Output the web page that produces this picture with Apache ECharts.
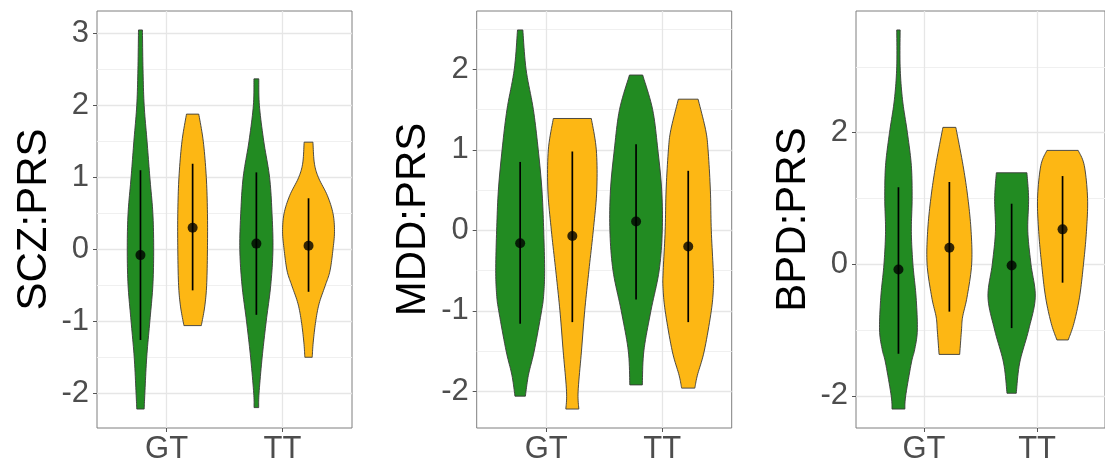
<!DOCTYPE html>
<html>
<head>
<meta charset="utf-8">
<script src="https://cdn.jsdelivr.net/npm/echarts@6/dist/echarts.min.js"></script>
<style>
  html, body { margin: 0; padding: 0; background: #fff; }
  #chart { width: 1105px; height: 466px; }
</style>
</head>
<body>
<div id="chart"></div>
<script>
// x categories and panel titles
const genotypes = ['GT', 'TT'];
const traitNames = ['SCZ:PRS', 'MDD:PRS', 'BPD:PRS'];

// violin outlines: [PRS value, half width in x units], from top to bottom
const sczGTGreen = [[3.05, 0.017], [2.5, 0.022], [2.0, 0.032], [1.5, 0.057], [1.0, 0.081], [0.5, 0.107], [0, 0.114], [-0.5, 0.107], [-1, 0.081], [-1.5, 0.054], [-2, 0.038], [-2.22, 0.032]];
const sczGTOrange = [[1.88, 0.053], [1.5, 0.092], [1, 0.118], [0.5, 0.128], [0, 0.128], [-0.5, 0.121], [-0.8, 0.104], [-1.06, 0.075]];
const sczTTGreen = [[2.37, 0.021], [2.0, 0.026], [1.5, 0.064], [1, 0.114], [0.5, 0.135], [0, 0.143], [-0.5, 0.124], [-1, 0.085], [-1.5, 0.05], [-2, 0.023], [-2.2, 0.02]];
const sczTTOrange = [[1.49, 0.038], [1.2, 0.05], [1, 0.085], [0.75, 0.162], [0.5, 0.211], [0.25, 0.224], [0, 0.211], [-0.3, 0.185], [-0.5, 0.145], [-0.75, 0.092], [-1, 0.062], [-1.3, 0.04], [-1.5, 0.032]];

const mddGTGreen = [[2.49, 0.023], [2, 0.051], [1.5, 0.114], [1, 0.156], [0.5, 0.188], [0, 0.203], [-0.5, 0.211], [-0.8, 0.203], [-1, 0.185], [-1.5, 0.121], [-1.8, 0.071], [-2.06, 0.045]];
const mddGTOrange = [[1.39, 0.164], [1, 0.207], [0.5, 0.211], [0, 0.181], [-0.5, 0.143], [-1, 0.107], [-1.5, 0.079], [-2, 0.05], [-2.22, 0.056]];
const mddTTGreen = [[1.93, 0.057], [1.5, 0.143], [1, 0.188], [0.5, 0.221], [0, 0.226], [-0.5, 0.199], [-1, 0.128], [-1.5, 0.067], [-1.92, 0.054]];
const mddTTOrange = [[1.63, 0.085], [1.25, 0.15], [1, 0.171], [0.5, 0.191], [0, 0.199], [-0.5, 0.216], [-0.7, 0.218], [-1, 0.199], [-1.5, 0.138], [-1.8, 0.079], [-1.96, 0.057]];

const bpdGTGreen = [[3.56, 0.015], [3, 0.015], [2.5, 0.036], [2, 0.079], [1.5, 0.114], [1, 0.121], [0.5, 0.114], [0, 0.128], [-0.5, 0.156], [-1, 0.167], [-1.3, 0.143], [-1.5, 0.114], [-2, 0.064], [-2.2, 0.057]];
const bpdGTOrange = [[2.08, 0.057], [1.5, 0.121], [1, 0.164], [0.5, 0.192], [0, 0.197], [-0.5, 0.156], [-0.8, 0.117], [-1, 0.107], [-1.37, 0.091]];
const bpdTTGreen = [[1.39, 0.135], [1, 0.15], [0.5, 0.143], [0, 0.171], [-0.5, 0.209], [-1, 0.15], [-1.5, 0.071], [-1.96, 0.041]];
const bpdTTOrange = [[1.73, 0.138], [1.5, 0.192], [1, 0.221], [0.5, 0.211], [0, 0.185], [-0.5, 0.15], [-0.9, 0.1], [-1.15, 0.05]];

// mean and mean ± sd, order: GT green, GT orange, TT green, TT orange
const sczMean = [-0.08, 0.30, 0.08, 0.05];
const sczLow = [-1.26, -0.57, -0.91, -0.59];
const sczHigh = [1.10, 1.19, 1.07, 0.71];
const mddMean = [-0.16, -0.07, 0.11, -0.20];
const mddLow = [-1.16, -1.14, -0.86, -1.14];
const mddHigh = [0.85, 0.98, 1.07, 0.74];
const bpdMean = [-0.08, 0.25, -0.02, 0.53];
const bpdLow = [-1.36, -0.72, -0.97, -0.28];
const bpdHigh = [1.17, 1.25, 0.92, 1.34];

// y ticks (major with labels, minor gridlines)
const sczTicks = [-2, -1, 0, 1, 2, 3];
const sczMinor = [-1.5, -0.5, 0.5, 1.5, 2.5];
const mddTicks = [-2, -1, 0, 1, 2];
const mddMinor = [-1.5, -0.5, 0.5, 1.5, 2.5];
const bpdTicks = [-2, 0, 2];
const bpdMinor = [-1, 1, 3];

const panels = [
  { name: traitNames[0], violins: [sczGTGreen, sczGTOrange, sczTTGreen, sczTTOrange], mean: sczMean, low: sczLow, high: sczHigh, ticks: sczTicks, minor: sczMinor },
  { name: traitNames[1], violins: [mddGTGreen, mddGTOrange, mddTTGreen, mddTTOrange], mean: mddMean, low: mddLow, high: mddHigh, ticks: mddTicks, minor: mddMinor },
  { name: traitNames[2], violins: [bpdGTGreen, bpdGTOrange, bpdTTGreen, bpdTTOrange], mean: bpdMean, low: bpdLow, high: bpdHigh, ticks: bpdTicks, minor: bpdMinor }
];

const FILLS = ['#228B22', '#FDB714'];
const DODGE = 0.225;
const gridLefts = [97, 476.7, 856];
const FONT = 'Liberation Sans, Arial, sans-serif';

const xPos = i => Math.floor(i / 2) + 1 + (i % 2 ? DODGE : -DODGE);

// Catmull-Rom smoothing of the outline for drawing
const cr = (a, b, c, d, t) =>
  0.5 * (2 * b + (-a + c) * t + (2 * a - 5 * b + 4 * c - d) * t * t + (-a + 3 * b - 3 * c + d) * t * t * t);
const smoothProfile = (prof, steps) => {
  const out = [];
  for (let i = 0; i < prof.length - 1; i++) {
    const p0 = prof[Math.max(i - 1, 0)], p1 = prof[i], p2 = prof[i + 1], p3 = prof[Math.min(i + 2, prof.length - 1)];
    for (let s = 0; s < steps; s++) {
      const t = s / steps;
      out.push([cr(p0[0], p1[0], p2[0], p3[0], t), Math.max(0.004, cr(p0[1], p1[1], p2[1], p3[1], t))]);
    }
  }
  out.push(prof[prof.length - 1]);
  return out;
};

// y range like ggplot: data range expanded by 5%
const yRange = p => {
  let lo = Infinity, hi = -Infinity;
  p.violins.forEach(v => v.forEach(d => { lo = Math.min(lo, d[0]); hi = Math.max(hi, d[0]); }));
  p.low.forEach(v => { lo = Math.min(lo, v); });
  p.high.forEach(v => { hi = Math.max(hi, v); });
  const pad = (hi - lo) * 0.05;
  return [lo - pad, hi + pad];
};

const grids = [], xAxes = [], yAxes = [], series = [];

panels.forEach((p, g) => {
  const [ymin, ymax] = yRange(p);
  grids.push({ left: gridLefts[g], top: 11, width: 255, height: 417, show: true, borderColor: '#7f7f7f', borderWidth: 1, backgroundColor: 'transparent' });

  xAxes.push({
    type: 'value', gridIndex: g, min: 0.4, max: 2.6, position: 'bottom',
    axisLine: { show: false, onZero: false },
    axisTick: { show: true, length: 4, lineStyle: { color: '#555', width: 1 }, customValues: [1, 2] },
    axisLabel: { customValues: [1, 2], formatter: v => genotypes[Math.round(v) - 1], color: '#4D4D4D', fontSize: 31, fontFamily: FONT, margin: 6 },
    splitLine: { show: true, lineStyle: { color: '#E6E6E6', width: 1.3 } }
  });

  yAxes.push({
    type: 'value', gridIndex: g, min: ymin, max: ymax, position: 'left',
    name: p.name, nameLocation: 'middle', nameGap: 42,
    nameTextStyle: { color: '#000', fontSize: 42, fontFamily: FONT },
    axisLine: { show: false, onZero: false },
    axisTick: { show: true, length: 4, lineStyle: { color: '#555', width: 1 }, customValues: p.ticks },
    axisLabel: { customValues: p.ticks, color: '#4D4D4D', fontSize: 31, fontFamily: FONT, margin: 8 },
    splitLine: { show: true, lineStyle: { color: '#E6E6E6', width: 1.3 } }
  });
  yAxes.push({
    type: 'value', gridIndex: g, min: ymin, max: ymax, position: 'right',
    axisLine: { show: false, onZero: false },
    axisTick: { show: false, customValues: p.minor },
    axisLabel: { show: false, customValues: p.minor },
    splitLine: { show: true, lineStyle: { color: '#F0F0F0', width: 1 } }
  });

  // violins
  series.push({
    type: 'custom', xAxisIndex: g, yAxisIndex: 2 * g, z: 2,
    data: p.violins.map((v, i) => [xPos(i), p.mean[i]]),
    renderItem: (params, api) => {
      const i = params.dataIndex;
      const xc = api.value(0);
      const prof = smoothProfile(p.violins[i], 10);
      const right = prof.map(d => api.coord([xc + d[1], d[0]]));
      const left = prof.slice().reverse().map(d => api.coord([xc - d[1], d[0]]));
      return {
        type: 'polygon',
        shape: { points: right.concat(left) },
        style: { fill: FILLS[i % 2], stroke: '#3a3a3a', lineWidth: 0.9 }
      };
    }
  });

  // mean ± sd lines
  series.push({
    type: 'custom', xAxisIndex: g, yAxisIndex: 2 * g, z: 3,
    data: p.mean.map((m, i) => [xPos(i), p.low[i], p.high[i]]),
    renderItem: (params, api) => {
      const a = api.coord([api.value(0), api.value(1)]);
      const b = api.coord([api.value(0), api.value(2)]);
      return {
        type: 'line',
        shape: { x1: a[0], y1: a[1], x2: b[0], y2: b[1] },
        style: { stroke: '#000', lineWidth: 1.7 }
      };
    }
  });

  // means
  series.push({
    type: 'scatter', xAxisIndex: g, yAxisIndex: 2 * g, z: 4,
    symbol: 'circle', symbolSize: 10,
    itemStyle: { color: '#000' },
    data: p.mean.map((m, i) => [xPos(i), m])
  });
});

const chart = echarts.init(document.getElementById('chart'));
chart.setOption({
  animation: false,
  backgroundColor: '#fff',
  grid: grids,
  xAxis: xAxes,
  yAxis: yAxes,
  series: series
});
window.addEventListener('resize', () => chart.resize());
</script>
</body>
</html>
